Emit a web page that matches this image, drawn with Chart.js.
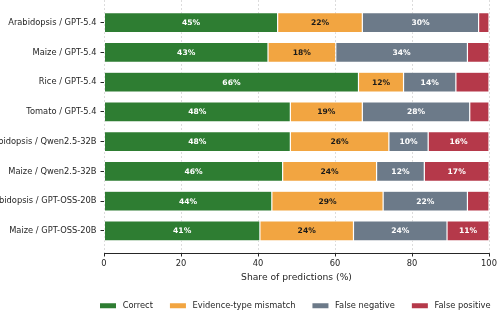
<!DOCTYPE html>
<html>
<head>
<meta charset="utf-8">
<script src="https://cdn.jsdelivr.net/npm/chart.js@4.4.1/dist/chart.umd.min.js"></script>
<style>
  html, body { margin: 0; padding: 0; background: #fff; }
  #wrap { width: 497px; height: 311px; }
</style>
</head>
<body>
<div id="wrap"><canvas id="errChart" width="497" height="311"></canvas></div>
<script>
// runs (rows, top to bottom)
const runs = [
  'Arabidopsis / GPT-5.4',
  'Maize / GPT-5.4',
  'Rice / GPT-5.4',
  'Tomato / GPT-5.4',
  'Arabidopsis / Qwen2.5-32B',
  'Maize / Qwen2.5-32B',
  'Arabidopsis / GPT-OSS-20B',
  'Maize / GPT-OSS-20B'
];

// share of predictions (%) per outcome
const correct       = [45.1, 42.6, 66.1, 48.4, 48.4, 46.4, 43.6, 40.5];
const typeMismatch  = [22.0, 17.6, 11.7, 18.7, 25.6, 24.4, 28.9, 24.3];
const falseNegative = [30.2, 34.2, 13.6, 27.9, 10.2, 12.4, 21.9, 24.3];
const falsePositive = [2.7, 5.6, 8.6, 5.0, 15.8, 16.8, 5.6, 10.9];

const xTicks = [0, 20, 40, 60, 80, 100];

const FONT = '"DejaVu Sans", sans-serif';
const TXT = '#262626';
const LEG_PAD = 14.5;

// подписи процентов внутри сегментов
const segLabels = {
  id: 'segLabels',
  afterDatasetsDraw(chart) {
    const { ctx } = chart;
    ctx.save();
    ctx.font = 'bold 7.6px ' + FONT;
    ctx.textAlign = 'center';
    ctx.textBaseline = 'middle';
    chart.data.datasets.forEach((ds, di) => {
      const meta = chart.getDatasetMeta(di);
      if (meta.hidden) return;
      meta.data.forEach((bar, i) => {
        const v = ds.data[i];
        if (v < 9.5) return;
        const p = bar.getProps(['x', 'y', 'base'], true);
        ctx.fillStyle = ds.labelColor;
        ctx.fillText(Math.round(v) + '%', (p.x + p.base) / 2, p.y + 0.5);
      });
    });
    ctx.restore();
  }
};

// легенда в одну строку под областью графика
const legendShift = {
  id: 'legendShift',
  afterLayout(chart) {
    const lg = chart.legend;
    if (!lg) return;
    lg.left = 83;
    lg.right = 700;
    lg.top = 286.2;
  }
};

const mkSet = (label, data, color, labelColor) => ({
  label, data,
  backgroundColor: color,
  borderColor: '#ffffff',
  borderWidth: 0.6,
  borderSkipped: false,
  labelColor,
  categoryPercentage: 1,
  barPercentage: 0.67
});

new Chart(document.getElementById('errChart'), {
  type: 'bar',
  data: {
    labels: runs.map((_, i) => i),
    datasets: [
      mkSet('Correct', correct, '#2e7d32', '#ffffff'),
      mkSet('Evidence-type mismatch', typeMismatch, '#f2a541', '#1a1a1a'),
      mkSet('False negative', falseNegative, '#6c7a89', '#ffffff'),
      mkSet('False positive', falsePositive, '#b5394a', '#ffffff')
    ]
  },
  options: {
    indexAxis: 'y',
    responsive: false,
    animation: false,
    layout: { padding: { top: 0, right: 8, bottom: -7, left: 0 } },
    scales: {
      x: {
        stacked: true,
        min: 0, max: 100,
        afterBuildTicks: s => { s.ticks = xTicks.map(v => ({ value: v })); },
        afterFit: s => { s.paddingLeft = 0; s.paddingRight = 0; },
        grid: {
          color: '#d4d4d4', lineWidth: 0.8,
          tickColor: TXT, tickLength: 3.5, tickWidth: 1
        },
        border: { display: true, color: TXT, width: 1, dash: [2, 2] },
        ticks: { color: TXT, font: { family: FONT, size: 8.3, lineHeight: 1.2 }, padding: 2, maxRotation: 0 },
        title: {
          display: true, text: 'Share of predictions (%)',
          color: TXT, font: { family: FONT, size: 9.2, lineHeight: 1.2 }, padding: { top: 2, bottom: 0 }
        }
      },
      y: {
        type: 'linear',
        offset: false,
        stacked: true,
        reverse: true,
        min: -0.76, max: 7.74,
        afterBuildTicks: s => { s.ticks = runs.map((_, i) => ({ value: i })); },
        afterFit: s => { s.width = 104; s.paddingTop = 0; s.paddingBottom = 0; },
        grid: { offset: false, drawOnChartArea: false, tickColor: TXT, tickLength: 3.5, tickWidth: 1 },
        border: { display: false },
        ticks: {
          color: TXT, font: { family: FONT, size: 8.3 }, padding: 4,
          callback: v => runs[v] || ''
        }
      }
    },
    plugins: {
      legend: {
        position: 'bottom',
        align: 'start',
        labels: {
          color: TXT, font: { family: FONT, size: 8.3 },
          boxWidth: 21, boxHeight: 10, padding: LEG_PAD,
          generateLabels: chart => Chart.defaults.plugins.legend.labels.generateLabels(chart)
            .map(it => ({ ...it, lineWidth: 5, strokeStyle: '#ffffff' }))
        }
      },
      tooltip: { enabled: false }
    }
  },
  plugins: [segLabels, legendShift]
});
</script>
</body>
</html>
